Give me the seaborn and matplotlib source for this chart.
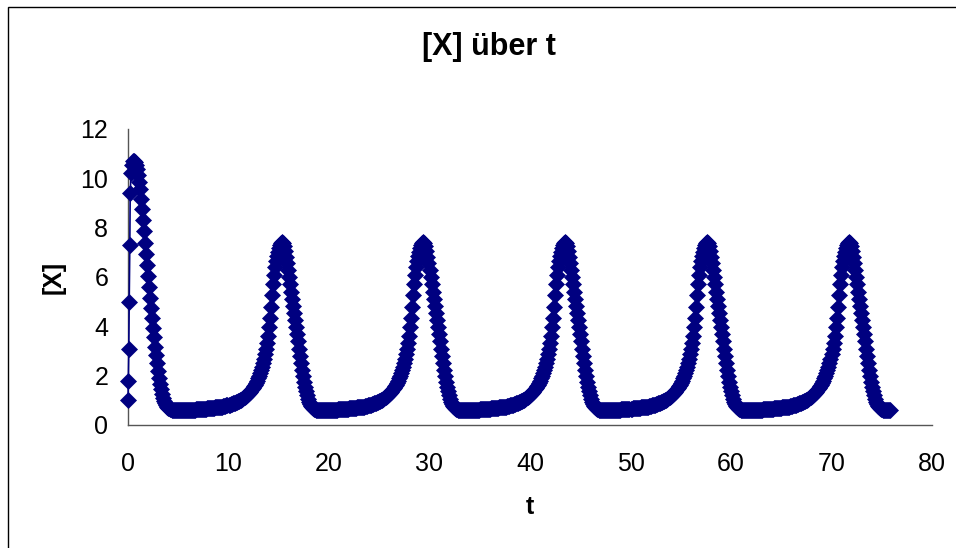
import numpy as np
import matplotlib
matplotlib.use("Agg")
import matplotlib.pyplot as plt
from matplotlib.patches import Rectangle
import seaborn as sns

# erste Punkte (Anstieg bei t ~ 0, dicht beieinander)
t_anfang = [0.0, 0.03, 0.08, 0.12, 0.18, 0.22]
x_anfang = [1.0, 1.8, 3.1, 5.0, 7.3, 9.4]

# erster Peak, ab t = 0.3 im Abstand 0.1 bis t = 4.5
x_peak1 = [10.20, 10.55, 10.70, 10.72, 10.66, 10.55, 10.38, 10.15, 9.87, 9.55,
           9.18, 8.76, 8.31, 7.85, 7.39, 6.93, 6.48, 6.03, 5.59, 5.16,
           4.74, 4.33, 3.93, 3.55, 3.18, 2.83, 2.50, 2.19, 1.91, 1.66,
           1.44, 1.26, 1.11, 0.99, 0.89, 0.81, 0.75, 0.70, 0.67, 0.65,
           0.63, 0.62, 0.61]

# eine Periode (14.1) ab Maximum, Abstand 0.1
x_zyklus = [7.40, 7.36, 7.24, 7.05, 6.82, 6.56, 6.28, 5.99, 5.70, 5.41,
            5.12, 4.83, 4.54, 4.26, 3.97, 3.68, 3.39, 3.10, 2.81, 2.52,
            2.24, 1.98, 1.75, 1.55, 1.37, 1.20, 1.05, 0.93, 0.84, 0.77,
            0.72, 0.68, 0.65, 0.63, 0.61, 0.60,
            0.59, 0.59, 0.59, 0.59, 0.59, 0.59, 0.59, 0.60, 0.60, 0.60,
            0.60, 0.60, 0.61, 0.61, 0.61, 0.61, 0.62, 0.62, 0.62, 0.62,
            0.63, 0.63, 0.63, 0.64, 0.64, 0.64, 0.65, 0.65, 0.66, 0.66,
            0.66, 0.67, 0.67, 0.68, 0.68, 0.69, 0.69, 0.70, 0.70, 0.71,
            0.71, 0.72, 0.72, 0.73, 0.74, 0.74, 0.75, 0.76, 0.77, 0.78,
            0.80, 0.81, 0.82, 0.83, 0.85, 0.86, 0.88, 0.89, 0.91, 0.93,
            0.95, 0.97, 0.99, 1.01, 1.03, 1.06, 1.09, 1.12, 1.15, 1.18,
            1.22, 1.26, 1.30, 1.35, 1.40, 1.45, 1.51, 1.57, 1.64, 1.72,
            1.80, 1.89, 1.99, 2.10, 2.22, 2.35, 2.50, 2.67, 2.86, 3.08,
            3.33, 3.62, 3.96, 4.35, 4.80, 5.27, 5.70, 6.08, 6.40, 6.66,
            6.86, 7.02, 7.16, 7.28, 7.37]

# Reihe zusammensetzen: Peak 1, dann die periodischen Peaks bei 15.3, 29.4, 43.5, 57.6, 71.7
x_werte = x_anfang + x_peak1 + x_zyklus[34:] + x_zyklus * 4 + x_zyklus[:42]
t_werte = t_anfang + list(np.round(0.3 + 0.1 * np.arange(len(x_werte) - len(t_anfang)), 2))

x_ticks = [0, 10, 20, 30, 40, 50, 60, 70, 80]
y_ticks = [0, 2, 4, 6, 8, 10, 12]

sns.set_style("white")
plt.rcParams['font.family'] = ['Liberation Sans', 'DejaVu Sans']
plt.rcParams['text.color'] = 'black'
plt.rcParams['axes.labelcolor'] = 'black'

fig = plt.figure(figsize=(9.56, 5.48), dpi=100)
ax = fig.add_axes([128 / 956, 1 - 425 / 548, 804 / 956, 296 / 548])

sns.lineplot(x=t_werte, y=x_werte, ax=ax, color='#000080', linewidth=1.2,
             marker='D', markersize=8, markeredgewidth=0.5,
             markeredgecolor='#000080', sort=False, estimator=None,
             clip_on=False, zorder=5)

ax.set_xlim(0, 80)
ax.set_ylim(0, 12)
ax.set_xticks(x_ticks)
ax.set_yticks(y_ticks)
sns.despine(ax=ax)
for s in ['left', 'bottom']:
    ax.spines[s].set_color('#555555')
    ax.spines[s].set_linewidth(1)
ax.tick_params(axis='both', direction='out', length=5.8, width=1,
               color='#555555', labelsize=18, labelcolor='black')
ax.tick_params(axis='x', pad=13.5)
ax.tick_params(axis='y', pad=8.5)

ax.set_xlabel('t', fontsize=18, fontweight='bold')
ax.set_ylabel('[X]', fontsize=18, fontweight='bold')
ax.xaxis.set_label_coords(0.5, -0.235)
ax.yaxis.set_label_coords(-0.078, 0.5)

fig.text(489 / 956, 1 - 46.5 / 548, '[X] über t', ha='center', va='center',
         fontsize=22, fontweight='bold', color='black')

# Rahmen um das Diagramm
fig.add_artist(Rectangle((8 / 956, -0.5), 2.0, 1.5 - 7 / 548, fill=False,
                         edgecolor='black', linewidth=1, transform=fig.transFigure))

fig.savefig('out.png', dpi=100)
